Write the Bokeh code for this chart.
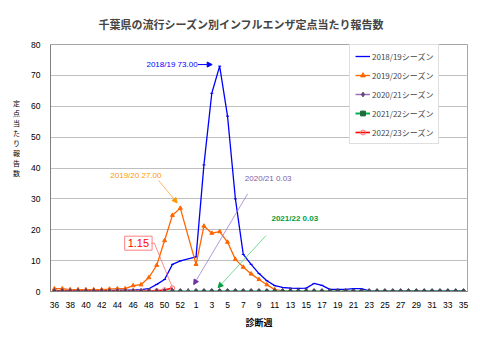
from bokeh.plotting import figure
from bokeh.models import FixedTicker, Label, Arrow, NormalHead, Legend, LegendItem, Range1d
from bokeh.embed import file_html
from bokeh.resources import INLINE

# ---- data -------------------------------------------------------------
weeks = ["36", "37", "38", "39", "40", "41", "42", "43", "44", "45", "46", "47",
         "48", "49", "50", "51", "52", "53",
         "1", "2", "3", "4", "5", "6", "7", "8", "9", "10", "11", "12", "13", "14",
         "15", "16", "17", "18", "19", "20", "21", "22", "23", "24", "25", "26",
         "27", "28", "29", "30", "31", "32", "33", "34", "35"]

season_names = ["2018/19シーズン", "2019/20シーズン", "2020/21シーズン",
                "2021/22シーズン", "2022/23シーズン"]

s2018_19 = [0.3, 0.3, 0.3, 0.3, 0.3, 0.3, 0.3, 0.3, 0.4, 0.4, 0.4, 0.6,
            0.9, 2.3, 3.9, 8.8, 9.9, None,
            11.2, 41.0, 64.2, 73.0, 56.8, 30.0, 12.0, 8.8, 5.8, 3.5, 1.9, 1.3,
            1.1, 1.0, 1.1, 2.6, 2.0, 0.7, 0.7, 0.7, 0.9, 0.9, 0.2, 0.1, 0.1,
            0.1, 0.1, 0.1, 0.1, 0.1, 0.1, 0.1, 0.1, 0.1, 0.2]

s2019_20 = [0.9, 0.9, 0.6, 0.6, 0.6, 0.6, 0.6, 0.8, 0.9, 0.9, 1.9, 2.2,
            4.5, 8.5, 16.5, 24.7, 27.0, None,
            8.8, 21.2, 18.9, 19.4, 16.0, 10.4, 7.9, 5.7, 3.9, 2.2, 0.6, 0.2,
            0.1, 0.05, 0.02, 0.02, 0.02, 0.02, 0.02, 0.02, 0.0, 0.0, 0.0, 0.0,
            0.0, 0.0, 0.0, 0.0, 0.0, 0.0, 0.0, 0.0, 0.0, 0.0, 0.0]

s2020_21 = [0.01, 0.01, 0.0, 0.01, 0.0, 0.01, 0.01, 0.0, 0.0, 0.01, 0.01, 0.0,
            0.01, 0.0, 0.01, 0.02, 0.01, 0.02,
            0.03, 0.02, 0.03, 0.02, 0.02, 0.02, 0.01, 0.01, 0.01, 0.0, 0.01,
            0.0, 0.01, 0.0, 0.0, 0.01, 0.0, 0.0, 0.01, 0.0, 0.0, 0.0, 0.01,
            0.0, 0.0, 0.0, 0.01, 0.0, 0.0, 0.0, 0.0, 0.01, 0.0, 0.0, 0.0]

s2021_22 = [0.01, 0.0, 0.0, 0.01, 0.0, 0.0, 0.01, 0.0, 0.01, 0.0, 0.0, 0.01,
            0.0, 0.01, 0.01, 0.02, 0.02, None,
            0.02, 0.02, 0.03, 0.03, 0.02, 0.02, 0.02, 0.01, 0.01, 0.01, 0.01,
            0.0, 0.01, 0.0, 0.01, 0.0, 0.0, 0.01, 0.0, 0.0, 0.01, 0.0, 0.0,
            0.0, 0.01, 0.0, 0.0, 0.0, 0.01, 0.0, 0.0, 0.0, 0.01, 0.0, 0.0]

s2022_23 = [0.1, 0.1, 0.1, 0.1, 0.1, 0.1, 0.1, 0.1, 0.1, 0.1, 0.1, 0.1,
            0.1, 0.2, 0.5, 1.15, None, None,
            None, None, None, None, None, None, None, None, None, None, None,
            None, None, None, None, None, None, None, None, None, None, None,
            None, None, None, None, None, None, None, None, None, None, None,
            None, None]

y_ticks = [0, 10, 20, 30, 40, 50, 60, 70, 80]

# ---- helpers ----------------------------------------------------------
idx = list(range(len(weeks)))


def pts(vals):
    xs = [i for i, v in zip(idx, vals) if v is not None]
    ys = [v for v in vals if v is not None]
    return xs, ys


JP = "Noto Sans CJK JP"
NUM = "Liberation Sans"

p = figure(width=480, height=345, output_backend="svg", toolbar_location=None,
           x_range=Range1d(-0.5, len(weeks) - 0.5), y_range=Range1d(0, 80),
           min_border_left=50, min_border_right=13, min_border_top=44,
           min_border_bottom=54, background_fill_color="white",
           border_fill_color="white")

p.title.text = "千葉県の流行シーズン別インフルエンザ定点当たり報告数"
p.title.text_font = JP
p.title.text_font_size = "11px"
p.title.text_font_style = "bold"
p.title.align = "left"
p.title.offset = 48
p.title.standoff = 25

p.outline_line_color = "#A6A6A6"
p.xgrid.grid_line_color = None
p.ygrid.grid_line_color = "#BFBFBF"
p.ygrid.grid_line_width = 1

p.xaxis.ticker = FixedTicker(ticks=idx[::2])
p.xaxis.major_label_overrides = {i: weeks[i] for i in idx[::2]}
p.yaxis.ticker = FixedTicker(ticks=y_ticks)
for ax in (p.xaxis, p.yaxis):
    ax.axis_line_color = "#808080"
    ax.major_tick_line_color = None
    ax.minor_tick_line_color = None
    ax.major_label_text_font = NUM
    ax.major_label_text_font_size = "8.5px"
    ax.major_label_text_color = "black"
p.xaxis.major_label_standoff = 4
p.yaxis.major_label_standoff = 4

# axis titles
p.xaxis.axis_label = "診断週"
p.xaxis.axis_label_text_font = JP
p.xaxis.axis_label_text_font_size = "9px"
p.xaxis.axis_label_text_font_style = "bold"
p.xaxis.axis_label_text_color = "black"
p.xaxis.axis_label_standoff = 5

p.yaxis.axis_label = "定\n点\n当\nた\nり\n報\n告\n数" + "\n" * 6
p.yaxis.axis_label_orientation = "horizontal"
p.yaxis.axis_label_text_font = JP
p.yaxis.axis_label_text_font_size = "7px"
p.yaxis.axis_label_text_line_height = 1.0
p.yaxis.axis_label_text_font_style = "normal"
p.yaxis.axis_label_text_color = "black"
p.yaxis.axis_label_standoff = 8

# ---- series -----------------------------------------------------------
x, y = pts(s2018_19)
l0 = p.line(x, y, line_color="#0000FF", line_width=1.3)
m0 = p.scatter(x, y, marker="dash", size=3, line_color="#0000FF")
x, y = pts(s2019_20)
l1 = p.line(x, y, line_color="#FF6600", line_width=1.3)
m1 = p.scatter(x, y, marker="triangle", size=4, fill_color="#FF6600",
               line_color="#FF6600")
x2, y2 = pts(s2020_21)
l2 = p.line(x2, y2, line_color="#A070C0", line_width=1.5)
x, y = pts(s2021_22)
l3 = p.line(x, y, line_color="#00B050", line_width=2)
m3 = p.scatter(x, y, marker="square", size=3, fill_color="#1E6B3A",
               line_color="#1E6B3A")
x, y = pts(s2022_23)
l4 = p.line(x, y, line_color="#FF0000", line_width=1.6)
m4 = p.scatter(x, y, marker="circle", size=4.5, fill_color="white",
               fill_alpha=0, line_color="#FF7070", line_width=1)
m2 = p.scatter(x2, y2, marker="diamond", size=6, fill_color="#4F3A5F",
               line_color="#4F3A5F", fill_alpha=0.8, line_alpha=0.8)

legend_items = [
    LegendItem(label=season_names[0], renderers=[l0, m0]),
    LegendItem(label=season_names[1], renderers=[l1, m1]),
    LegendItem(label=season_names[2], renderers=[l2, m2]),
    LegendItem(label=season_names[3], renderers=[l3, m3]),
    LegendItem(label=season_names[4], renderers=[l4, m4]),
]

legend = Legend(items=legend_items, location=(299, 147), padding=5,
                spacing=7, glyph_width=15, glyph_height=12, label_height=12,
                label_standoff=2, label_text_font=JP,
                label_text_font_size="8px", border_line_color="#BFBFBF",
                background_fill_color="white", background_fill_alpha=1,
                margin=0)
p.add_layout(legend, "center")

# ---- annotations ------------------------------------------------------
ann_font = "8px"

# 2018/19 peak
pk = max(v for v in s2018_19 if v is not None)
ip = s2018_19.index(pk)
p.add_layout(Label(x=ip - 2.8, y=pk + 0.5, text=f"2018/19 {pk:.2f}",
                   text_align="right", text_baseline="middle",
                   text_font=NUM, text_font_size=ann_font,
                   text_color="#0000FF"))
p.add_layout(Arrow(end=NormalHead(size=5, fill_color="#0000FF",
                                  line_color="#0000FF"),
                   x_start=ip - 2.75, y_start=pk + 0.5, x_end=ip - 0.95,
                   y_end=pk + 0.5, line_color="#0000FF", line_width=1))

# 2019/20 peak
pk1 = max(v for v in s2019_20 if v is not None)
ip1 = s2019_20.index(pk1)
p.add_layout(Label(x=ip1 - 5.65, y=pk1 + 10.6, text=f"2019/20 {pk1:.2f}",
                   text_align="center", text_baseline="middle",
                   text_font=NUM, text_font_size=ann_font,
                   text_color="#FF9900"))
p.add_layout(Arrow(end=NormalHead(size=5, fill_color="#FF9900",
                                  line_color="#FF9900"),
                   x_start=ip1 - 2.75, y_start=pk1 + 8.95, x_end=ip1 - 0.4,
                   y_end=pk1 + 1.7, line_color="#FFA040", line_width=0.8))

# 2020/21 (week 1)
i2 = weeks.index("1")
v2 = s2020_21[i2]
p.add_layout(Label(x=i2 + 6.2, y=v2 + 36.5, text=f"2020/21  {v2:.2f}",
                   text_align="left", text_baseline="middle",
                   text_font=NUM, text_font_size=ann_font,
                   text_color="#8060A8"))
p.add_layout(Arrow(end=NormalHead(size=5, fill_color="#7030A0",
                                  line_color="#7030A0"),
                   x_start=i2 + 6.56, y_start=v2 + 31.6, x_end=i2 - 0.3,
                   y_end=v2 + 2.2, line_color="#A080D0", line_width=0.8))

# 2021/22 (week 4)
i3 = weeks.index("4")
v3 = s2021_22[i3]
p.add_layout(Label(x=i3 + 9.55, y=v3 + 23.7, text=f"2021/22 {v3:.2f}",
                   text_align="center", text_baseline="middle",
                   text_font=NUM, text_font_size=ann_font,
                   text_font_style="bold", text_color="#00A040"))
p.add_layout(Arrow(end=NormalHead(size=5, fill_color="#00A040",
                                  line_color="#00A040"),
                   x_start=i3 + 5.9, y_start=v3 + 18.1, x_end=i3 - 0.2,
                   y_end=v3 + 1.2, line_color="#50D080", line_width=0.8))

# 2022/23 latest
vals4 = [v for v in s2022_23 if v is not None]
v4 = vals4[-1]
i4 = len(vals4) - 1
p.add_layout(Label(x=i4 - 4.33, y=v4 + 14.5, text=f"{v4:.2f}",
                   text_align="center", text_baseline="middle",
                   text_font=NUM, text_font_size="11px", text_color="#FF0000",
                   border_line_color="#FF8080", border_line_width=1,
                   background_fill_color="white", padding=3))
p.add_layout(Arrow(end=None, x_start=i4 - 2.7, y_start=v4 + 14.5,
                   x_end=i4 - 2.3, y_end=v4 + 14.5, line_color="#FF7070",
                   line_width=0.8))
p.add_layout(Arrow(end=None, x_start=i4 - 2.3, y_start=v4 + 14.5,
                   x_end=i4, y_end=v4 + 0.1, line_color="#FF7070",
                   line_width=0.8))

open("out.html", "w").write(file_html(p, INLINE))
